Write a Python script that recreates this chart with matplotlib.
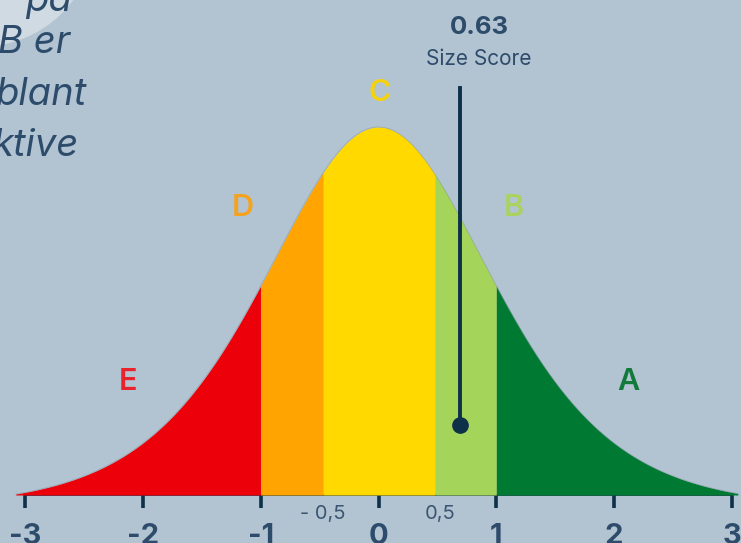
import numpy as np
import matplotlib
matplotlib.use("Agg")
import matplotlib.pyplot as plt
from matplotlib.patches import Circle

plt.rcParams['font.family'] = ['Inter', 'DejaVu Sans']

# zone boundaries on the z-axis and their grades
bounds = [-3.08, -1.0, -0.47, 0.48, 1.0, 3.05]
grades = ["E", "D", "C", "B", "A"]
colors = ["#ec0009", "#ffa400", "#ffd900", "#a5d45b", "#007a33"]
label_colors = ["#e8232b", "#f5a31e", "#f5d20a", "#a8d45e", "#117a3a"]
grade_x = [-2.13, -1.15, 0.01, 1.15, 2.12]
grade_y = [0.307, 0.78, 1.092, 0.78, 0.307]

score_text = "0.63"
score_pos = 0.69   # where the marker sits in the picture
ticks = [-3, -2, -1, 0, 1, 2, 3]
half_ticks = [-0.5, 0.5]
half_labels = ["- 0,5", "0,5"]

side_text = ["på", "B er", "blant", "ktive"]

bg = "#b2c3d2"
navy = "#0e3048"
textc = "#2d4b6a"

# bell shape (peak scaled to 1, drops to zero just past the ends)
spread = 0.65
def bell(x):
    edge = 1 / np.cosh(3.13 / (2 * spread)) ** 2
    return (1 / np.cosh(x / (2 * spread)) ** 2 - edge) / (1 - edge)

fig = plt.figure(figsize=(7.41, 5.43), dpi=100, facecolor=bg)
ax = fig.add_axes([0, 0, 1, 1])
ax.set_facecolor(bg)
ax.set_xlim(-3.213, 3.077)
ax.set_ylim(-48 / 368, 495 / 368)

for i in range(len(grades)):
    xs = np.linspace(bounds[i], bounds[i + 1], 200)
    ax.fill_between(xs, 0, np.clip(bell(xs), 0, None), color=colors[i], lw=0, zorder=2)
    ax.text(grade_x[i], grade_y[i], grades[i], color=label_colors[i], fontsize=22,
            fontweight='semibold', ha='center', va='center', zorder=5)

xs = np.linspace(bounds[0], bounds[-1], 600)
ax.plot(xs, np.clip(bell(xs), 0, None), color="#8a9aa6", lw=0.6, alpha=0.6, zorder=3)

# marker
ax.plot([score_pos, score_pos], [0.19, 1.106], color=navy, lw=2.8, zorder=6)
ax.plot(score_pos, 0.19, 'o', ms=11, color=navy, zorder=7)
ax.text(score_pos + 0.165, 1.27, score_text, color=textc, fontsize=18.5,
        fontweight='bold', ha='center', va='center')
ax.text(score_pos + 0.165, 1.184, "Size Score", color=textc, fontsize=15,
        ha='center', va='center')

# axis
for s in ['top', 'left', 'right']:
    ax.spines[s].set_visible(False)
ax.spines['bottom'].set_position(('data', 0))
ax.spines['bottom'].set_bounds(-3, 3)
ax.spines['bottom'].set_color(navy)
ax.spines['bottom'].set_linewidth(1.2)
ax.spines['bottom'].set_zorder(1)
ax.set_yticks([])
ax.set_xticks(ticks)
ax.set_xticklabels([str(t) for t in ticks])
ax.tick_params(axis='x', direction='out', length=9, width=2.6, color=navy,
               labelsize=21, labelcolor=textc, pad=11)
for lab in ax.get_xticklabels():
    lab.set_fontweight('bold')

for v, lab in zip(half_ticks, half_labels):
    ax.text(v + 0.025, -0.028, lab, color="#3b5672", fontsize=14.5,
            ha='center', va='top')

# top-left decoration
fig.patches.append(Circle((-19, 543 + 68), 114, transform=None, color="#cfdae3",
                          zorder=0))
ax.patch.set_alpha(0)
line_right = [72, 70, 87, 79]
line_y = [-1, 43, 95, 146]
for t, xr, yy in zip(side_text, line_right, line_y):
    fig.text(xr / 741, 1 - yy / 543, t, color=textc, fontsize=27.5,
             style='italic', ha='right', va='center')

fig.savefig("out.png", dpi=100, facecolor=bg)
